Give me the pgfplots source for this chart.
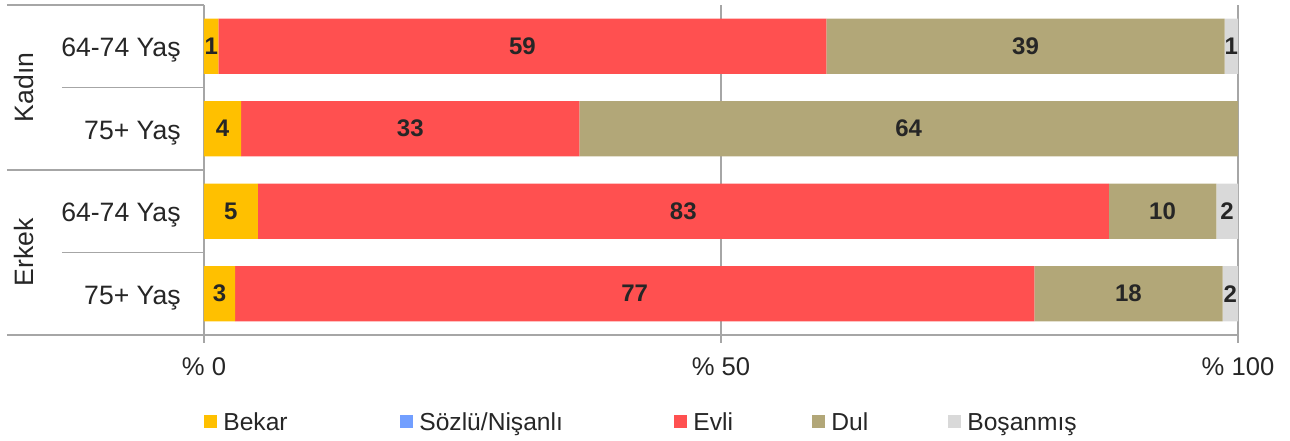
\documentclass[border=0pt]{standalone}
\usepackage{pgfplots}
\usepackage{pgfplotstable}
\pgfplotsset{compat=1.18}
\usepackage{fontspec}
\setmainfont{Liberation Sans}
\definecolor{cBekar}{HTML}{FFC000}
\definecolor{cSoz}{HTML}{729FFF}
\definecolor{cEvli}{HTML}{FF5050}
\definecolor{cDul}{HTML}{B2A778}
\definecolor{cBos}{HTML}{D9D9D9}
\definecolor{cAxis}{HTML}{A6A6A6}
\definecolor{cLab}{HTML}{262626}

\pgfplotstableread{
y Bekar Soz Evli Dul Bos
3 1.4 0 58.8 38.5 1.3
2 3.6 0 32.7 63.7 0
1 5.2 0 82.3 10.4 2.1
0 3.0 0 77.3 18.2 1.5
}\data

\pgfplotstableread{
x y l
0.7 3 1
30.8 3 59
79.45 3 39
99.35 3 1
1.8 2 4
19.95 2 33
68.15 2 64
2.6 1 5
46.35 1 83
92.7 1 10
98.95 1 2
1.5 0 3
41.65 0 77
89.4 0 18
99.25 0 2
}\labels

\pgfplotsset{base/.style={width=517pt,height=165pt,scale only axis,xmin=0,xmax=100,ymin=-0.5,ymax=3.5}}

\begin{document}
\begin{tikzpicture}
\begin{axis}[base, name=ax, xbar stacked, bar width=0.667, clip=false,
  axis lines*=left, axis line style={cAxis, line width=0.75pt, -},
  xtick={0,50,100}, xticklabels={\% 0,\% 50,\% 100},
  xmajorgrids, grid style={cAxis, line width=0.75pt},
  tick align=outside, major tick length=4pt,
  xtick style={cAxis, line width=0.75pt},
  ytick={0,1,2,3}, yticklabels={75+ Yaş,64-74 Yaş,75+ Yaş,64-74 Yaş},
  ytick style={draw=none},
  yticklabel style={anchor=base east, inner sep=0pt, xshift=-7.5pt, yshift=-5.25pt, font=\fontsize{13.3pt}{16pt}\selectfont, text=cLab},
  xticklabel style={anchor=base, inner sep=0pt, yshift=-16.5pt, font=\fontsize{12.8pt}{15pt}\selectfont, text=cLab},
  legend columns=5,
  legend style={at={(0,-0.2667)}, anchor=west, draw=none, inner sep=0pt, column sep=0pt,
     font=\fontsize{12.3pt}{14pt}\selectfont, nodes={inner sep=0pt, text=cLab, anchor=base west}},
  legend image code/.code={\fill[#1] (0pt,1pt) rectangle (6.5pt,7.5pt); \path (9.5pt,0pt);},
]
\addplot[fill=cBekar, draw=none] table[x=Bekar, y=y]{\data};
\addlegendentry[text width=88.5pt]{Bekar}
\addplot[fill=cSoz, draw=none] table[x=Soz, y=y]{\data};
\addlegendentry[text width=127.5pt]{Sözlü/Nişanlı}
\addplot[fill=cEvli, draw=none] table[x=Evli, y=y]{\data};
\addlegendentry[text width=59.5pt]{Evli}
\addplot[fill=cDul, draw=none] table[x=Dul, y=y]{\data};
\addlegendentry[text width=58.5pt]{Dul}
\addplot[fill=cBos, draw=none] table[x=Bos, y=y]{\data};
\addlegendentry{Boşanmış}
\draw[cAxis, line width=0.75pt] ([xshift=-98.5pt]axis cs:0,3.5) -- (axis cs:0,3.5);
\draw[cAxis, line width=0.75pt] ([xshift=-71pt]axis cs:0,2.5) -- (axis cs:0,2.5);
\draw[cAxis, line width=0.75pt] ([xshift=-98.5pt]axis cs:0,1.5) -- (axis cs:0,1.5);
\draw[cAxis, line width=0.75pt] ([xshift=-71pt]axis cs:0,0.5) -- (axis cs:0,0.5);
\draw[cAxis, line width=0.75pt] ([xshift=-98.5pt]axis cs:0,-0.5) -- (axis cs:0,-0.5);
\node[rotate=90, anchor=base, inner sep=0pt, font=\fontsize{13.3pt}{16pt}\selectfont, text=cLab] at ([xshift=-85pt]axis cs:0,2.5) {Kadın};
\node[rotate=90, anchor=base, inner sep=0pt, font=\fontsize{13.3pt}{16pt}\selectfont, text=cLab] at ([xshift=-85pt]axis cs:0,0.5) {Erkek};
\end{axis}
\begin{axis}[base, hide axis, clip=false]
\addplot[draw=none, mark=none, nodes near coords, point meta=explicit symbolic,
  nodes near coords style={anchor=center, inner sep=0pt, text=cLab, font=\fontsize{12pt}{14pt}\selectfont\bfseries}]
  table[x=x, y=y, meta=l]{\labels};
\end{axis}
\pgfresetboundingbox
\path[use as bounding box] ([xshift=-102pt,yshift=-53pt]ax.south west) rectangle ([xshift=26pt,yshift=2.5pt]ax.north east);
\end{tikzpicture}
\end{document}
